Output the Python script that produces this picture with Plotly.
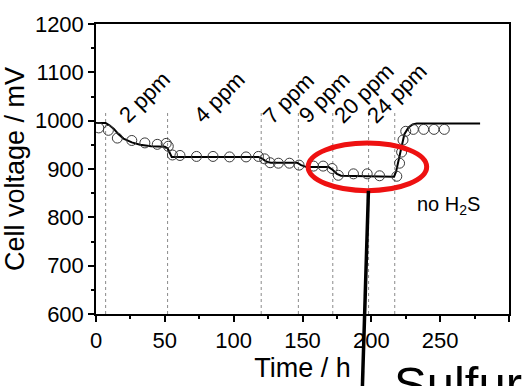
import plotly.graph_objects as go

# Measured cell voltage (open circles)
meas_time_h = [2, 9, 15.5, 26, 35.5, 44.5, 51, 52.5, 55.5, 61, 73, 85, 97, 109, 118,
               122.5, 126.5, 132.5, 140.5, 147.5, 158, 165, 171.5, 176, 187, 197, 206,
               218.5, 220.5, 222, 223, 225, 230.5, 238, 245.5, 253]
meas_voltage_mv = [985, 980, 964, 959, 954, 951, 953, 947, 929, 928, 926, 926, 925, 925, 926,
                   921, 913, 912, 912, 908, 906, 906, 901, 887, 890, 890, 886,
                   885, 912, 935, 960, 978, 982, 982, 982, 982]

# Model curve (solid line)
model_time_h = [0, 7, 10, 13, 16, 20, 26, 32, 40, 50, 52, 53.5, 55, 118, 121, 124, 127,
                146, 149, 153, 169, 172, 175, 178, 216.5, 218, 221, 224, 227, 230, 233, 279]
model_voltage_mv = [995, 995, 990, 983, 973, 963, 955, 950, 947, 946, 943, 932, 925, 925, 921,
                    915, 913, 913, 908, 904, 904, 898, 890, 886, 884, 895, 936, 972, 986,
                    992, 994, 994]

# H2S concentration steps
step_time_h = [7, 52, 120, 147, 172, 198, 217]
step_labels = ["2 ppm", "4 ppm", "7 ppm", "9 ppm", "20 ppm", "24 ppm"]

X_RANGE = [0, 300]
Y_RANGE = [600, 1200]
FONT = "Liberation Sans, Arial, sans-serif"

fig = go.Figure()

fig.add_trace(go.Scatter(
    x=model_time_h, y=model_voltage_mv, mode="lines",
    line=dict(color="black", width=2), showlegend=False, hoverinfo="skip"))

fig.add_trace(go.Scatter(
    x=meas_time_h, y=meas_voltage_mv, mode="markers",
    marker=dict(symbol="circle-open", size=10, color="#3a3a3a", line=dict(width=1)),
    showlegend=False))

shapes = []
for t in step_time_h:
    shapes.append(dict(type="line", xref="x", yref="y", x0=t, x1=t, y0=600, y1=1018,
                       line=dict(color="#8a8a8a", width=1, dash="dot"), layer="below"))

# label centres (h, mV) for the rotated concentration labels
label_centres = [(34.9, 1048), (89.5, 1047.5), (139.7, 1046), (165.7, 1047.5),
                 (194.2, 1057), (218.4, 1057)]
annotations = []
for text, (cx, cy) in zip(step_labels, label_centres):
    annotations.append(dict(x=cx, y=cy, xref="x", yref="y", text=text, showarrow=False,
                            textangle=-45, xanchor="center", yanchor="middle",
                            font=dict(family=FONT, size=22, color="black")))

annotations.append(dict(x=231.5, y=824, xref="x", yref="y", text="no H<sub>2</sub>S",
                        showarrow=False, xanchor="left", yanchor="middle",
                        font=dict(family=FONT, size=20, color="black")))


def px_x(t):
    return (t - X_RANGE[0]) / (X_RANGE[1] - X_RANGE[0])


def px_y(v):
    return (v - Y_RANGE[0]) / (Y_RANGE[1] - Y_RANGE[0])


# highlight of the high-concentration region
shapes.append(dict(type="circle", xref="x", yref="y", x0=154.1, x1=240.2, y0=855.2, y1=953.8,
                   line=dict(color="#ee1111", width=5), layer="above"))

# callout leader to the "Sulfur" caption
shapes.append(dict(type="line", xref="paper", yref="paper",
                   x0=px_x(197.9), y0=px_y(855), x1=px_x(193.4), y1=px_y(440),
                   line=dict(color="black", width=3.5), layer="above"))

annotations.append(dict(x=px_x(215), y=px_y(515), xref="paper", yref="paper", text="Sulfur",
                        showarrow=False, xanchor="left", yanchor="top",
                        font=dict(family=FONT, size=49, color="black")))

axis_common = dict(showgrid=False, zeroline=False, showline=True, linecolor="black",
                   linewidth=1.5, mirror=True, ticks="outside", ticklen=6, tickwidth=1.5,
                   tickcolor="black", tickfont=dict(family=FONT, size=22, color="black"))

fig.update_layout(
    width=527, height=386,
    margin=dict(l=96, r=18, t=16, b=66),
    paper_bgcolor="white", plot_bgcolor="white",
    shapes=shapes, annotations=annotations,
    xaxis=dict(range=X_RANGE, dtick=50, tick0=0,
               minor=dict(dtick=25, ticks="outside", ticklen=3, tickcolor="black", tickwidth=1.5),
               title=dict(text="Time / h", font=dict(family=FONT, size=27, color="black"), standoff=2),
               **axis_common),
    yaxis=dict(range=Y_RANGE, dtick=100, tick0=600,
               minor=dict(dtick=50, ticks="outside", ticklen=3, tickcolor="black", tickwidth=1.5),
               title=dict(text="Cell voltage / mV", font=dict(family=FONT, size=27, color="black"), standoff=4),
               **axis_common),
)

fig.write_html("out.html")
